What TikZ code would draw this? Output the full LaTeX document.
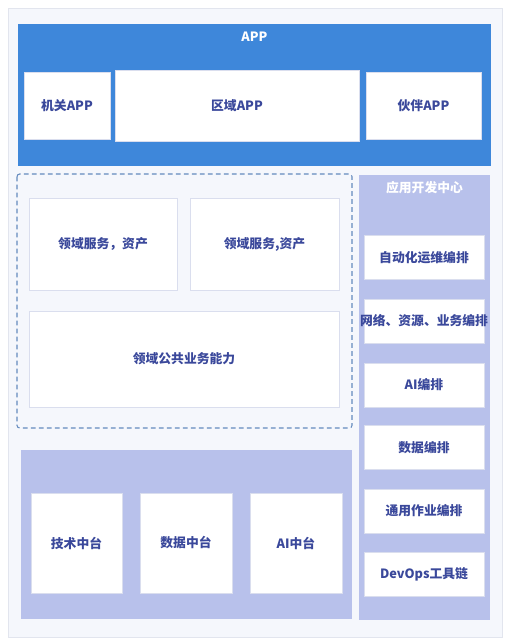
\documentclass[tikz,border=0pt]{standalone}
\usepackage{fontspec}
\setmainfont{Noto Sans CJK SC}
\definecolor{appblue}{RGB}{62,135,218}
\definecolor{lavender}{RGB}{184,193,235}
\definecolor{inktext}{RGB}{58,72,155}
\definecolor{panelbg}{RGB}{245,247,252}
\definecolor{panelline}{RGB}{226,229,238}
\definecolor{dashline}{RGB}{100,138,190}
\definecolor{boxline}{RGB}{218,222,238}
\begin{document}
\begin{tikzpicture}[
    x=0.75pt, y=-0.75pt,
    every node/.style={font=\fontsize{9.6}{11}\selectfont\bfseries},
    card/.style={
        draw=boxline,
        fill=white,
        text=inktext,
        inner sep=0pt,
        align=center
    },
    heading/.style={
        text=white,
        inner sep=0pt
    }
]

    \useasboundingbox (0,0) rectangle (508,642);

    % Outer panel
    \draw[draw=panelline, fill=panelbg] (8,8) rectangle (502,637);

    % APP layer
    \fill[appblue] (18,24) rectangle (491,166);
    \node[heading] (apptitle) at (254.5,37) {APP};

    \node[
        card,
        minimum width=64.5pt,
        minimum height=50.25pt
    ] (organapp) at (67,105.5) {机关APP};

    \node[
        card,
        minimum width=183pt,
        minimum height=53.25pt
    ] (regionapp) at (237,105.5) {区域APP};

    \node[
        card,
        minimum width=86.25pt,
        minimum height=50.25pt
    ] (partnerapp) at (423.5,105.5) {伙伴APP};

    % Domain layer (dashed)
    \draw[
        dashline,
        line width=0.8pt,
        dash pattern=on 3.5pt off 2.5pt,
        rounded corners=2pt
    ] (17,174) rectangle (352,428);

    \node[
        card,
        minimum width=111pt,
        minimum height=69pt
    ] (domainleft) at (103,244) {领域服务，资产};

    \node[
        card,
        minimum width=111.75pt,
        minimum height=69pt
    ] (domainright) at (264.5,244) {领域服务,资产};

    \node[
        card,
        minimum width=232.5pt,
        minimum height=72pt
    ] (domaincommon) at (184,359) {领域公共业务能力};

    % Middle platforms
    \fill[lavender] (21,450) rectangle (352,619);

    \node[
        card,
        minimum width=68.25pt,
        minimum height=75pt
    ] (techhub) at (76.5,543) {技术中台};

    \node[
        card,
        minimum width=69pt,
        minimum height=75pt
    ] (datahub) at (186,543) {数据中台};

    \node[
        card,
        minimum width=69pt,
        minimum height=75pt
    ] (aihub) at (296,543) {AI中台};

    % Application development center
    \fill[lavender] (359,175) rectangle (490,620);
    \node[heading] (devtitle) at (424.5,188) {应用开发中心};

    \node[card, minimum width=90pt, minimum height=33pt]
        (opsorch) at (424,257.5) {自动化运维编排};
    % text runs past the box edges here
    \node[card, minimum width=90pt, minimum height=33pt]
        (netorch) at (424,321) {\makebox[0pt]{网络、资源、业务编排}};
    \node[card, minimum width=90pt, minimum height=33pt]
        (aiorch) at (424,385) {AI编排};
    \node[card, minimum width=90pt, minimum height=33pt]
        (dataorch) at (424,447.5) {数据编排};
    \node[card, minimum width=90pt, minimum height=33pt]
        (joborch) at (424,511) {通用作业编排};
    \node[card, minimum width=90pt, minimum height=33pt]
        (devops) at (424,574) {DevOps工具链};

\end{tikzpicture}
\end{document}
